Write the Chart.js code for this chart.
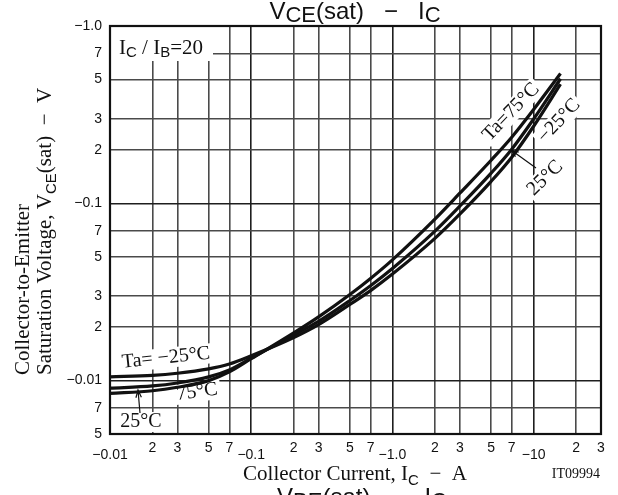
<!DOCTYPE html>
<html>
<head>
<meta charset="utf-8">
<script src="https://cdn.jsdelivr.net/npm/chart.js@4.4.1/dist/chart.umd.min.js"></script>
<style>
  html, body { margin: 0; padding: 0; background: #fff; }
  #wrap { width: 618px; height: 495px; }
</style>
</head>
<body>
<div id="wrap"><canvas id="chart" width="618" height="495"></canvas></div>
<script>
// Collector current (A, magnitude) and VCE(sat) (V, magnitude)
const currents = [0.01, 0.02, 0.03, 0.05, 0.07, 0.1, 0.2, 0.3, 0.5, 0.7, 1, 2, 3, 5, 7, 10, 15.5];
const vceMinus25 = [0.0105, 0.0107, 0.0110, 0.01165, 0.0124, 0.0138, 0.0175, 0.0207, 0.0269, 0.0322, 0.0399, 0.0634, 0.0868, 0.133, 0.182, 0.272, 0.47];
const vce25 = [0.00906, 0.00933, 0.0097, 0.0105, 0.0115, 0.0134, 0.0181, 0.0216, 0.0283, 0.0343, 0.0429, 0.0697, 0.0964, 0.148, 0.202, 0.299, 0.504];
const vce75 = [0.00848, 0.00877, 0.00917, 0.0100, 0.0112, 0.0133, 0.0186, 0.0229, 0.0306, 0.0377, 0.0480, 0.0815, 0.114, 0.175, 0.236, 0.338, 0.54];

// Axis ticks (grid lines) and their printed labels
const xTicks = [0.01, 0.02, 0.03, 0.05, 0.07, 0.1, 0.2, 0.3, 0.5, 0.7, 1, 2, 3, 5, 7, 10, 20, 30];
const xTickLabels = ['−0.01', '2', '3', '5', '7', '−0.1', '2', '3', '5', '7', '−1.0', '2', '3', '5', '7', '−10', '2', '3'];
const yTicks = [0.005, 0.007, 0.01, 0.02, 0.03, 0.05, 0.07, 0.1, 0.2, 0.3, 0.5, 0.7, 1];
const yTickLabels = ['5', '7', '−0.01', '2', '3', '5', '7', '−0.1', '2', '3', '5', '7', '−1.0'];
const decades = [0.01, 0.1, 1, 10];

const SANS = "'Liberation Sans', Arial, Helvetica, sans-serif";
const SERIF = "'Liberation Serif', 'Times New Roman', Times, serif";

function toPoints(values) {
    return values.map((v, i) => ({ x: currents[i], y: v }));
}

// Draw a run of text pieces [text, font, dy] with optional white backing
function drawParts(ctx, parts, x, y, opts) {
    opts = opts || {};
    ctx.save();
    ctx.translate(x, y);
    ctx.rotate((opts.angle || 0) * Math.PI / 180);
    ctx.textBaseline = opts.baseline || 'middle';
    let w = 0;
    parts.forEach(p => { ctx.font = p[1]; w += ctx.measureText(p[0]).width; });
    let x0 = opts.align === 'center' ? -w / 2 : (opts.align === 'right' ? -w : 0);
    if (opts.bg) {
        ctx.fillStyle = '#fff';
        ctx.fillRect(x0 - 3, -opts.bg / 2, w + 6, opts.bg);
    }
    ctx.fillStyle = '#111';
    parts.forEach(p => {
        ctx.font = p[1];
        ctx.fillText(p[0], x0, p[2] || 0);
        x0 += ctx.measureText(p[0]).width;
    });
    ctx.restore();
}

function drawArrow(ctx, x1, y1, x2, y2) {
    const a = Math.atan2(y2 - y1, x2 - x1);
    ctx.save();
    ctx.strokeStyle = '#111';
    ctx.lineWidth = 1.2;
    ctx.beginPath();
    ctx.moveTo(x1, y1);
    ctx.lineTo(x2, y2);
    ctx.moveTo(x2 - 8 * Math.cos(a - 0.35), y2 - 8 * Math.sin(a - 0.35));
    ctx.lineTo(x2, y2);
    ctx.lineTo(x2 - 8 * Math.cos(a + 0.35), y2 - 8 * Math.sin(a + 0.35));
    ctx.stroke();
    ctx.restore();
}

// Labels that sit under the curves (drawn after the grid, before the lines)
const curveLabels = {
    id: 'curveLabels',
    beforeDatasetsDraw(chart) {
        const ctx = chart.ctx;
        const f = '20px ' + SERIF;

        ctx.fillStyle = '#fff';
        ctx.fillRect(111, 27, 102, 34);
        drawParts(ctx, [['I', '21px ' + SERIF], ['C', '15px ' + SANS, 5], [' / I', '21px ' + SERIF],
            ['B', '15px ' + SANS, 5], ['=20', '21px ' + SERIF]], 119, 48, {});

        drawParts(ctx, [['Ta= −25°C', f]], 166, 358, { angle: -6, align: 'center', bg: 20 });
        drawParts(ctx, [['75°C', f]], 197, 392, { angle: -8, align: 'center', bg: 20 });
        drawParts(ctx, [['25°C', f]], 141, 422, { align: 'center', bg: 20 });
        drawArrow(ctx, 140, 413, 138, 390);

        drawParts(ctx, [['Ta=75°C', f]], 511, 112, { angle: -46, align: 'center', bg: 20 });
        drawParts(ctx, [['−25°C', f]], 559, 121, { angle: -47, align: 'center', bg: 20 });
        drawParts(ctx, [['25°C', f]], 545, 178, { angle: -44, align: 'center', bg: 20 });
        drawArrow(ctx, 536, 168, 511, 150);
    }
};

// Frame, tick labels and titles
const frameAndText = {
    id: 'frameAndText',
    afterDraw(chart) {
        const ctx = chart.ctx;
        const a = chart.chartArea;
        const xs = chart.scales.x;
        const ys = chart.scales.y;

        ctx.save();
        ctx.strokeStyle = '#111';
        ctx.lineWidth = 2.2;
        ctx.strokeRect(a.left, a.top, a.right - a.left, a.bottom - a.top);
        ctx.restore();

        const tf = '14px ' + SANS;
        xTicks.forEach((v, i) => {
            const isDecade = decades.includes(v);
            drawParts(ctx, [[xTickLabels[i], tf]], xs.getPixelForValue(v), isDecade ? 455 : 448, { align: 'center' });
        });
        yTicks.forEach((v, i) => {
            drawParts(ctx, [[yTickLabels[i], tf]], 102, ys.getPixelForValue(v), { align: 'right' });
        });

        // chart title
        drawParts(ctx, [['V', '24px ' + SANS], ['CE', '22px ' + SANS, 3], ['(sat)   −   I', '24px ' + SANS],
            ['C', '22px ' + SANS, 3]], 355, 19, { align: 'center', baseline: 'alphabetic' });
        // title of the next chart, cut off by the bottom edge
        drawParts(ctx, [['V', '24px ' + SANS], ['BE', '22px ' + SANS, 3], ['(sat)   −   I', '24px ' + SANS],
            ['C', '22px ' + SANS, 3]], 362, 505, { align: 'center', baseline: 'alphabetic' });

        // axis titles
        drawParts(ctx, [['Collector Current, I', '21px ' + SERIF], ['C', '15px ' + SANS, 5], ['  −  A', '21px ' + SERIF]],
            355, 480, { align: 'center', baseline: 'alphabetic' });
        drawParts(ctx, [['IT09994', '14px ' + SERIF]], 600, 478, { align: 'right', baseline: 'alphabetic' });

        drawParts(ctx, [['Collector-to-Emitter', '21px ' + SERIF]], 29, 375, { angle: -90, baseline: 'alphabetic' });
        drawParts(ctx, [['Saturation Voltage, V', '21px ' + SERIF], ['CE', '15px ' + SANS, 5],
            ['(sat)  −  V', '21px ' + SERIF]], 51, 375, { angle: -90, baseline: 'alphabetic' });
    }
};

function gridColor(c) {
    return decades.includes(c.tick && c.tick.value) ? '#1e1e1e' : '#4a4a4a';
}

const lineStyle = {
    borderColor: '#111',
    borderWidth: 3.2,
    pointRadius: 0,
    fill: false,
    cubicInterpolationMode: 'monotone'
};

new Chart(document.getElementById('chart').getContext('2d'), {
    type: 'line',
    data: {
        datasets: [
            Object.assign({ label: 'Ta=−25°C', data: toPoints(vceMinus25) }, lineStyle),
            Object.assign({ label: 'Ta=25°C', data: toPoints(vce25) }, lineStyle),
            Object.assign({ label: 'Ta=75°C', data: toPoints(vce75) }, lineStyle)
        ]
    },
    options: {
        responsive: false,
        animation: false,
        layout: { padding: { left: 110, right: 17, top: 26, bottom: 61 } },
        plugins: {
            legend: { display: false },
            tooltip: { enabled: false }
        },
        scales: {
            x: {
                type: 'logarithmic',
                min: 0.01,
                max: 30,
                afterBuildTicks: scale => { scale.ticks = xTicks.map(v => ({ value: v })); },
                ticks: { display: false },
                border: { display: false },
                grid: { color: gridColor, lineWidth: 1.6, drawTicks: false }
            },
            y: {
                type: 'logarithmic',
                min: 0.005,
                max: 1,
                afterBuildTicks: scale => { scale.ticks = yTicks.map(v => ({ value: v })); },
                ticks: { display: false },
                border: { display: false },
                grid: { color: gridColor, lineWidth: 1.6, drawTicks: false }
            }
        }
    },
    plugins: [curveLabels, frameAndText]
});
</script>
</body>
</html>
